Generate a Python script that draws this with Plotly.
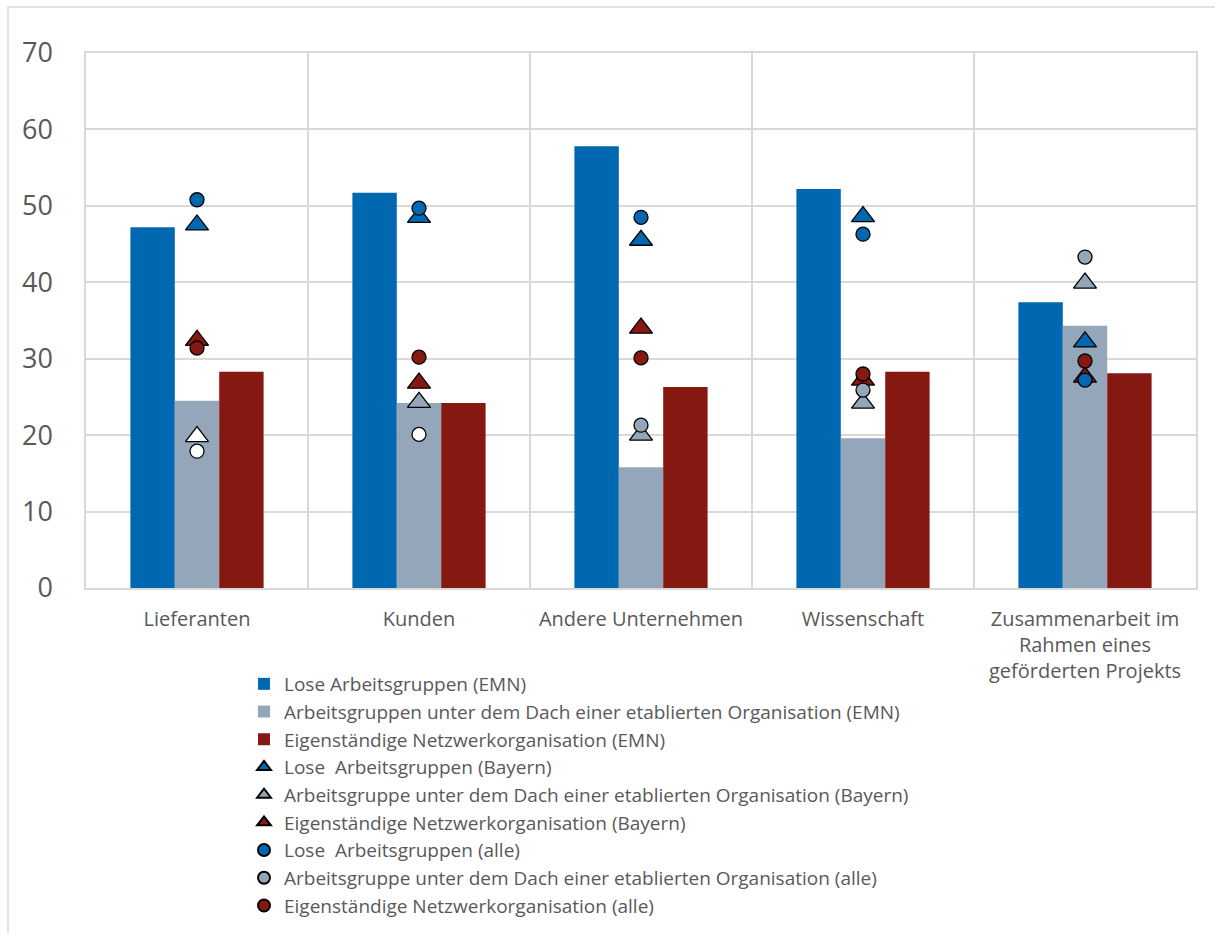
import plotly.graph_objects as go

categories = ["Lieferanten", "Kunden", "Andere Unternehmen", "Wissenschaft",
              "Zusammenarbeit im<br>Rahmen eines<br>geförderten Projekts"]

# Bars (EMN)
lose_emn = [47.2, 51.7, 57.8, 52.2, 37.4]
dach_emn = [24.5, 24.2, 15.8, 19.6, 34.3]
eigen_emn = [28.3, 24.2, 26.3, 28.3, 28.1]

# Triangles (Bayern)
lose_bay = [47.5, 48.5, 45.5, 48.6, 32.2]
dach_bay = [19.8, 24.3, 20.0, 24.2, 39.9]
eigen_bay = [32.4, 26.8, 34.0, 27.2, 27.6]

# Circles (alle)
lose_all = [50.8, 49.7, 48.5, 46.3, 27.2]
dach_all = [17.9, 20.1, 21.3, 25.9, 43.3]
eigen_all = [31.4, 30.2, 30.1, 28.0, 29.7]

BLUE = "#0068B1"
GREY = "#94A7BA"
RED = "#861812"
TXT = "#595959"
FONT = "Open Sans"

fig = go.Figure()
fig.add_trace(go.Bar(x=categories, y=lose_emn, name="Lose Arbeitsgruppen (EMN)",
                     marker=dict(color=BLUE, line=dict(width=0))))
fig.add_trace(go.Bar(x=categories, y=dach_emn,
                     name="Arbeitsgruppen unter dem Dach einer etablierten Organisation (EMN)",
                     marker=dict(color=GREY, line=dict(width=0))))
fig.add_trace(go.Bar(x=categories, y=eigen_emn, name="Eigenständige Netzwerkorganisation (EMN)",
                     marker=dict(color=RED, line=dict(width=0))))

tri = dict(symbol="triangle-up", size=20, line=dict(color="black", width=1.3))
circ = dict(symbol="circle", size=14, line=dict(color="black", width=1.3))

# some grey points are drawn with white fill in the original
grey_tri_fill = ["white", GREY, GREY, GREY, GREY]
grey_circ_fill = ["white", "white", GREY, GREY, GREY]

# grey series passed in reverse order so the legend symbol takes the grey fill
fig.add_trace(go.Scatter(x=categories, y=lose_bay, mode="markers",
                         name="Lose  Arbeitsgruppen (Bayern)",
                         marker=dict(color=BLUE, **tri)))
fig.add_trace(go.Scatter(x=categories[::-1], y=dach_bay[::-1], mode="markers",
                         name="Arbeitsgruppe unter dem Dach einer etablierten Organisation (Bayern)",
                         marker=dict(color=grey_tri_fill[::-1], **tri)))
fig.add_trace(go.Scatter(x=categories, y=eigen_bay, mode="markers",
                         name="Eigenständige Netzwerkorganisation (Bayern)",
                         marker=dict(color=RED, **tri)))
fig.add_trace(go.Scatter(x=categories, y=lose_all, mode="markers",
                         name="Lose  Arbeitsgruppen (alle)",
                         marker=dict(color=BLUE, **circ)))
fig.add_trace(go.Scatter(x=categories[::-1], y=dach_all[::-1], mode="markers",
                         name="Arbeitsgruppe unter dem Dach einer etablierten Organisation (alle)",
                         marker=dict(color=grey_circ_fill[::-1], **circ)))
fig.add_trace(go.Scatter(x=categories, y=eigen_all, mode="markers",
                         name="Eigenständige Netzwerkorganisation (alle)",
                         marker=dict(color=RED, **circ)))

L, R, T, B = 86, 19, 53, 345
W, H = 1215, 933
pw, ph = W - L - R, H - T - B

fig.update_layout(
    width=W, height=H,
    margin=dict(l=L, r=R, t=T, b=B, pad=0, autoexpand=False),
    paper_bgcolor="white", plot_bgcolor="white",
    barmode="group", bargap=0.4, bargroupgap=0,
    font=dict(family=FONT, color=TXT),
    showlegend=True,
    legend=dict(x=(244 - L) / pw, y=(588 - 665) / ph, xanchor="left", yanchor="top",
                font=dict(size=19, color=TXT, family=FONT),
                tracegroupgap=0, itemsizing="constant", traceorder="normal",
                bgcolor="rgba(0,0,0,0)", itemwidth=30),
    xaxis=dict(type="category", tickson="boundaries", showgrid=True,
               gridcolor="#D9D9D9", gridwidth=1.5, ticks="", showline=True,
               linecolor="#D9D9D9", linewidth=1.5, mirror=True,
               tickfont=dict(size=20, color=TXT), ticklabelstandoff=12),
    yaxis=dict(range=[0, 70], dtick=10, showgrid=True, gridcolor="#D9D9D9",
               gridwidth=1.5, zeroline=False, showline=True, linecolor="#D9D9D9",
               linewidth=1.5, mirror=True, ticks="",
               tickfont=dict(size=27, color=TXT), ticklabelstandoff=26),
    shapes=[dict(type="rect", xref="paper", yref="paper",
                 x0=(8 - L) / pw, x1=(1230 - L) / pw,
                 y0=(588 - 960) / ph, y1=(588 - 7) / ph,
                 line=dict(color="#D9D9D9", width=1.5), fillcolor="rgba(0,0,0,0)",
                 layer="below")],
)

fig.write_html("out.html")
